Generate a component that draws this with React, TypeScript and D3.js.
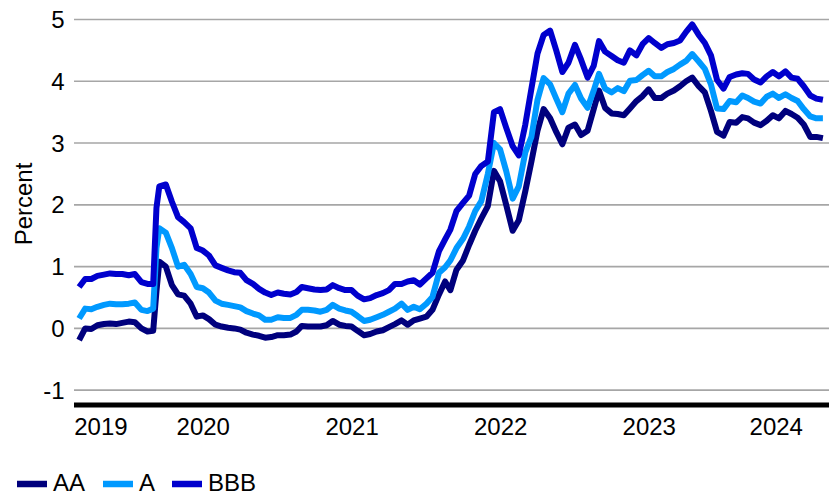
import React from "react";
import * as d3 from "d3";

const DATES = (
  "2019-09-01 2019-09-16 2019-10-01 2019-10-16 2019-11-01 2019-11-16 2019-12-01 2019-12-16 " +
  "2020-01-01 2020-01-16 2020-02-01 2020-02-16 2020-03-01 2020-03-09 2020-03-16 2020-04-01 2020-04-16 2020-05-01 2020-05-16 2020-06-01 2020-06-16 2020-07-01 2020-07-16 2020-08-01 2020-08-16 2020-09-01 2020-09-16 2020-10-01 2020-10-16 2020-11-01 2020-11-16 2020-12-01 2020-12-16 " +
  "2021-01-01 2021-01-16 2021-02-01 2021-02-16 2021-03-01 2021-03-16 2021-04-01 2021-04-16 2021-05-01 2021-05-16 2021-06-01 2021-06-16 2021-07-01 2021-07-16 2021-08-01 2021-08-16 2021-09-01 2021-09-16 2021-10-01 2021-10-16 2021-11-01 2021-11-16 2021-12-01 2021-12-16 " +
  "2022-01-01 2022-01-16 2022-02-01 2022-02-16 2022-03-01 2022-03-16 2022-04-01 2022-04-16 2022-05-01 2022-05-16 2022-06-01 2022-06-16 2022-07-01 2022-07-16 2022-08-01 2022-08-16 2022-09-01 2022-09-16 2022-10-01 2022-10-16 2022-11-01 2022-11-16 2022-12-01 2022-12-16 " +
  "2023-01-01 2023-01-16 2023-02-01 2023-02-16 2023-03-01 2023-03-16 2023-04-01 2023-04-16 2023-05-01 2023-05-16 2023-06-01 2023-06-16 2023-07-01 2023-07-16 2023-08-01 2023-08-16 2023-09-01 2023-09-16 2023-10-01 2023-10-16 2023-11-01 2023-11-16 2023-12-01 2023-12-16 " +
  "2024-01-01 2024-01-16 2024-02-01 2024-02-16 2024-03-01 2024-03-16 2024-04-01 2024-04-16 2024-05-01 2024-05-16 2024-06-01 2024-06-16 2024-07-01 2024-07-16 2024-08-01 2024-08-16 2024-09-01"
).split(" ");

const AA = [
  -0.19, 0.0, -0.01, 0.05, 0.07, 0.08, 0.07, 0.09,
  0.11, 0.1, 0.0, -0.05, -0.04, 0.6, 1.08, 1.0, 0.7, 0.55, 0.53, 0.4, 0.19, 0.21, 0.15, 0.06, 0.03, 0.01, 0.0, -0.02, -0.07, -0.1, -0.12, -0.15, -0.14,
  -0.11, -0.11, -0.1, -0.05, 0.04, 0.03, 0.03, 0.03, 0.05, 0.12, 0.06, 0.04, 0.03, -0.04, -0.11, -0.09, -0.05, -0.03, 0.02, 0.07, 0.13, 0.06, 0.13, 0.16,
  0.19, 0.3, 0.55, 0.76, 0.62, 0.95, 1.1, 1.35, 1.58, 1.78, 1.98, 2.55, 2.38, 2.0, 1.58, 1.75, 2.22, 2.7, 3.2, 3.55, 3.4, 3.18, 2.98, 3.25,
  3.3, 3.13, 3.2, 3.55, 3.85, 3.57, 3.48, 3.47, 3.45, 3.56, 3.68, 3.76, 3.87, 3.73, 3.73, 3.8, 3.85, 3.92, 4.0, 4.06, 3.92, 3.82, 3.52, 3.18,
  3.12, 3.34, 3.33, 3.42, 3.4, 3.33, 3.29, 3.36, 3.45, 3.4, 3.52, 3.47, 3.41, 3.3, 3.1, 3.1, 3.08,
];

const A = [
  0.16, 0.32, 0.31, 0.35, 0.38, 0.4, 0.39, 0.39,
  0.4, 0.42, 0.3, 0.28, 0.32, 1.3, 1.62, 1.55, 1.3, 1.0, 1.03, 0.88, 0.67, 0.65, 0.58, 0.45, 0.4, 0.38, 0.36, 0.34, 0.28, 0.24, 0.21, 0.14, 0.14,
  0.18, 0.17, 0.17, 0.22, 0.3, 0.3, 0.29, 0.27, 0.3, 0.38, 0.32, 0.29, 0.27, 0.2, 0.12, 0.14, 0.18, 0.22, 0.27, 0.32, 0.4, 0.3, 0.35, 0.31,
  0.4, 0.51, 0.9, 0.99, 1.1, 1.3, 1.45, 1.65, 1.9, 2.06, 2.5, 3.0, 2.9, 2.55, 2.1, 2.3, 2.85, 3.1, 3.7, 4.05, 3.95, 3.72, 3.5, 3.8,
  3.94, 3.72, 3.57, 3.85, 4.12, 3.88, 3.82, 3.89, 3.84, 4.01, 4.02, 4.1, 4.17, 4.08, 4.08, 4.15, 4.2, 4.27, 4.33, 4.44, 4.32, 4.2, 3.95, 3.56,
  3.55, 3.68, 3.66, 3.77, 3.73, 3.67, 3.64, 3.75, 3.8, 3.73, 3.79, 3.73, 3.68, 3.55, 3.43, 3.4, 3.4,
];

const BBB = [
  0.67, 0.8, 0.8, 0.85, 0.87, 0.89, 0.88, 0.88,
  0.86, 0.88, 0.75, 0.72, 0.72, 1.95, 2.3, 2.33, 2.05, 1.8, 1.72, 1.62, 1.3, 1.26, 1.18, 1.02, 0.98, 0.94, 0.91, 0.9, 0.78, 0.72, 0.64, 0.58, 0.54,
  0.58, 0.56, 0.55, 0.59, 0.67, 0.65, 0.63, 0.62, 0.63, 0.7, 0.65, 0.62, 0.62, 0.53, 0.47, 0.49, 0.54, 0.57, 0.62, 0.72, 0.72, 0.76, 0.78, 0.71,
  0.81, 0.9, 1.25, 1.44, 1.6, 1.9, 2.03, 2.15, 2.5, 2.63, 2.7, 3.5, 3.55, 3.25, 2.95, 2.8, 3.3, 3.88, 4.45, 4.75, 4.82, 4.5, 4.15, 4.3,
  4.59, 4.35, 4.06, 4.25, 4.65, 4.48, 4.41, 4.34, 4.3, 4.5, 4.42, 4.6, 4.7, 4.62, 4.54, 4.6, 4.62, 4.66, 4.8, 4.92, 4.75, 4.62, 4.42, 4.02,
  3.88, 4.07, 4.11, 4.13, 4.12, 4.03, 3.98, 4.08, 4.15, 4.08, 4.16, 4.06, 4.04, 3.92, 3.77, 3.72, 3.7,
];

const SERIES_NAMES = ["AA", "A", "BBB"];
const SERIES_VALUES = [AA, A, BBB];
const SERIES_COLORS = ["#00007d", "#0099ff", "#0000cd"];
const Y_TICKS = [-1, 0, 1, 2, 3, 4, 5];
const YEARS = [2019, 2020, 2021, 2022, 2023, 2024];
const X_START = "2019-08-17";
const X_END = "2024-09-16";

const W = 829;
const H = 495;
const FONT = "'Liberation Sans', Arial, sans-serif";

export default function App() {
  const parse = d3.utcParse("%Y-%m-%d");
  const dates = DATES.map((d) => parse(d) as Date);
  const x0 = parse(X_START) as Date;
  const x1 = parse(X_END) as Date;
  const x = d3.scaleUtc().domain([x0, x1]).range([73, 829]);
  const y = d3.scaleLinear().domain([-1.24, 5]).range([405, 19.5]);

  const line = d3
    .line<number>()
    .x((_, i) => x(dates[i]))
    .y((v) => y(v));

  const yearLabels = YEARS.map((yr) => {
    const s = Math.max(+x0, Date.UTC(yr, 0, 1));
    const e = Math.min(+x1, Date.UTC(yr + 1, 0, 1));
    return { yr, cx: (x(new Date(s)) + x(new Date(e))) / 2 };
  });

  const legendX = [17, 103, 172];

  return (
    <svg
      width={W}
      height={H}
      style={{ position: "absolute", left: 0, top: 0, background: "#fff" }}
      fontFamily={FONT}
    >
      {Y_TICKS.map((t) => (
        <g key={t}>
          <line x1={74} x2={829} y1={y(t)} y2={y(t)} stroke="#a6a6a6" strokeWidth={1.6} />
          <text x={64.5} y={y(t) + 8.6} textAnchor="end" fontSize={24} fill="#000">
            {t}
          </text>
        </g>
      ))}
      <text
        transform={`translate(31.5, 204) rotate(-90)`}
        textAnchor="middle"
        fontSize={24}
        fill="#000"
      >
        Percent
      </text>
      {SERIES_VALUES.map((vals, k) => (
        <path
          key={SERIES_NAMES[k]}
          d={line(vals) || ""}
          fill="none"
          stroke={SERIES_COLORS[k]}
          strokeWidth={6}
          strokeLinejoin="round"
        />
      ))}
      <line x1={74} x2={829} y1={405} y2={405} stroke="#000" strokeWidth={5} />
      {yearLabels.map((l) => (
        <text key={l.yr} x={l.cx} y={435} textAnchor="middle" fontSize={24} fill="#000">
          {l.yr}
        </text>
      ))}
      {SERIES_NAMES.map((n, k) => (
        <g key={n}>
          <line
            x1={legendX[k]}
            x2={legendX[k] + 30}
            y1={484}
            y2={484}
            stroke={SERIES_COLORS[k]}
            strokeWidth={6.5}
          />
          <text x={legendX[k] + 36} y={491} fontSize={24} fill="#000">
            {n}
          </text>
        </g>
      ))}
    </svg>
  );
}
